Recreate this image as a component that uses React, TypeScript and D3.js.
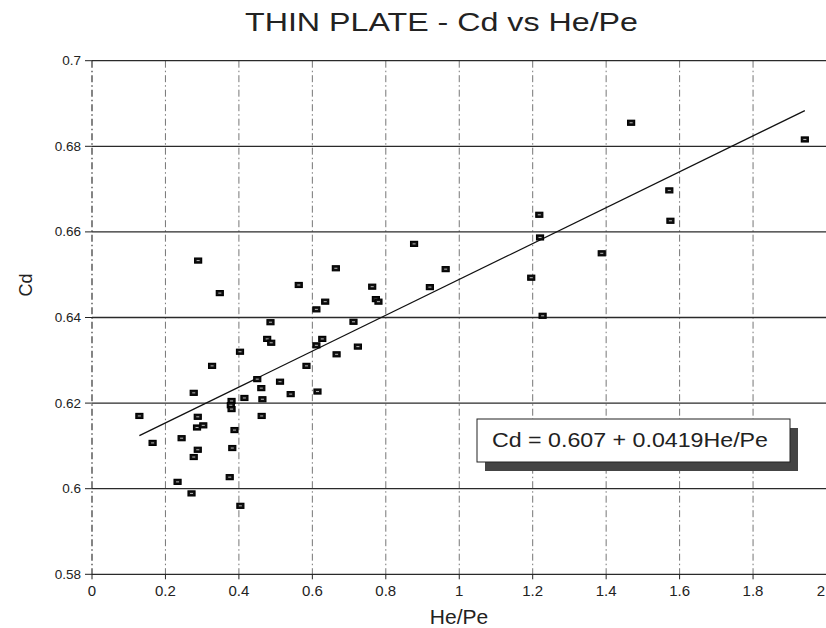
import React from "react";
import * as d3 from "d3";

const heValues = [
  0.129, 0.165, 0.244, 0.233, 0.271, 0.277, 0.288, 0.288, 0.286, 0.303,
  0.375, 0.382, 0.388, 0.404, 0.462, 0.380, 0.378, 0.380, 0.289, 0.348,
  0.277, 0.327, 0.403, 0.415, 0.450, 0.461, 0.464, 0.512, 0.477, 0.488,
  0.486, 0.541, 0.563, 0.584, 0.611, 0.611, 0.614, 0.627, 0.635, 0.664,
  0.666, 0.712, 0.724, 0.877, 0.963, 0.920, 0.763, 0.773, 0.780, 1.220,
  1.196, 1.227, 1.388, 1.468, 1.941, 1.572, 1.575, 1.218,
];
const cdValues = [
  0.6170, 0.6107, 0.6118, 0.6016, 0.5989, 0.6074, 0.6091, 0.6168, 0.6143, 0.6148,
  0.6027, 0.6095, 0.6137, 0.5960, 0.6170, 0.6205, 0.6195, 0.6186, 0.6533, 0.6457,
  0.6224, 0.6287, 0.6320, 0.6212, 0.6256, 0.6235, 0.6209, 0.6250, 0.6350, 0.6341,
  0.6389, 0.6221, 0.6476, 0.6287, 0.6419, 0.6335, 0.6227, 0.6350, 0.6437, 0.6515,
  0.6314, 0.6390, 0.6332, 0.6572, 0.6513, 0.6471, 0.6472, 0.6443, 0.6437, 0.6587,
  0.6493, 0.6404, 0.6550, 0.6855, 0.6816, 0.6697, 0.6626, 0.6640,
];
const xTicks = [0, 0.2, 0.4, 0.6, 0.8, 1, 1.2, 1.4, 1.6, 1.8, 2];
const yTicks = [0.58, 0.6, 0.62, 0.64, 0.66, 0.68, 0.7];
const intercept = 0.607;
const slope = 0.0419;
const title = "THIN PLATE - Cd vs He/Pe";
const equationText = "Cd = 0.607 + 0.0419He/Pe";

const W = 826;
const H = 628;

export default function App() {
  const x = d3.scaleLinear().domain([0, 2]).range([92, 826.5]);
  const y = d3.scaleLinear().domain([0.58, 0.7]).range([574.3, 60.7]);
  const pts = heValues.map((h, i) => ({ h, c: cdValues[i] }));
  const [xmin, xmax] = d3.extent(heValues) as [number, number];
  const fitLine = d3
    .line<number>()
    .x((d) => x(d))
    .y((d) => y(intercept + slope * d))([xmin, xmax]);
  const fmtX = (v: number) => String(v);
  const font = "Arial, 'Liberation Sans', Helvetica, sans-serif";

  const boxX = 477, boxY = 419, boxW = 313, boxH = 43;

  return (
    <svg
      width={W}
      height={H}
      style={{ position: "absolute", left: 0, top: 0, background: "#fff" }}
      fontFamily={font}
    >
      <rect x={0} y={0} width={W} height={H} fill="#fff" />
      {/* title */}
      <text
        x={245}
        y={31}
        fontSize={26}
        fill="#222"
        textLength={393}
        lengthAdjust="spacingAndGlyphs"
      >
        {title}
      </text>

      {/* vertical grid (dash-dot) */}
      {xTicks.map((t) => (
        <line
          key={"vx" + t}
          x1={x(t)}
          x2={x(t)}
          y1={y(0.7)}
          y2={y(0.58)}
          stroke={t === 0 ? "#333" : "#666"}
          strokeWidth={t === 0 ? 1.2 : 0.9}
          strokeDasharray="7,3,1.5,3"
        />
      ))}
      {/* horizontal grid (solid) */}
      {yTicks.map((t) => (
        <line
          key={"hy" + t}
          x1={x(0)}
          x2={W}
          y1={y(t)}
          y2={y(t)}
          stroke="#2a2a2a"
          strokeWidth={1.3}
        />
      ))}

      {/* y ticks & labels */}
      {yTicks.map((t) => (
        <g key={"yt" + t}>
          <line x1={x(0) - 7} x2={x(0)} y1={y(t)} y2={y(t)} stroke="#222" strokeWidth={1} />
          <text x={81} y={y(t) + 4.5} fontSize={13.5} textAnchor="end" fill="#222">
            {String(t)}
          </text>
        </g>
      ))}
      {/* x ticks & labels */}
      {xTicks.map((t) => (
        <g key={"xt" + t}>
          <line x1={x(t)} x2={x(t)} y1={y(0.58)} y2={y(0.58) + 5} stroke="#222" strokeWidth={1} />
          <text
            x={t === 2 ? W - 1 : x(t)}
            y={596}
            fontSize={15}
            textAnchor={t === 2 ? "end" : "middle"}
            fill="#222"
          >
            {fmtX(t)}
          </text>
        </g>
      ))}

      {/* axis titles */}
      <text x={459} y={624} fontSize={21} textAnchor="middle" fill="#222">
        He/Pe
      </text>
      <text
        transform={`translate(32,285) rotate(-90)`}
        fontSize={18}
        textAnchor="middle"
        fill="#222"
      >
        Cd
      </text>

      {/* fitted line */}
      <path d={fitLine || ""} fill="none" stroke="#111" strokeWidth={1.3} />

      {/* markers */}
      {pts.map((p, i) => (
        <g key={"p" + i}>
          <rect
            x={x(p.h) - 3.5}
            y={y(p.c) - 2.5}
            width={7}
            height={5}
            fill="#111"
            stroke="#000"
            strokeWidth={1.2}
          />
          <rect
            x={x(p.h) - 1.5}
            y={y(p.c) - 0.5}
            width={3}
            height={1}
            fill="#bbb"
          />
        </g>
      ))}

      {/* equation box with shadow */}
      <rect x={boxX + 8} y={boxY + 9} width={boxW} height={boxH} fill="#444" />
      <rect x={boxX} y={boxY} width={boxW} height={boxH} fill="#fff" stroke="#222" strokeWidth={1} />
      <text
        x={492}
        y={447}
        fontSize={20}
        fill="#222"
        textLength={276}
        lengthAdjust="spacingAndGlyphs"
      >
        {equationText}
      </text>
    </svg>
  );
}
